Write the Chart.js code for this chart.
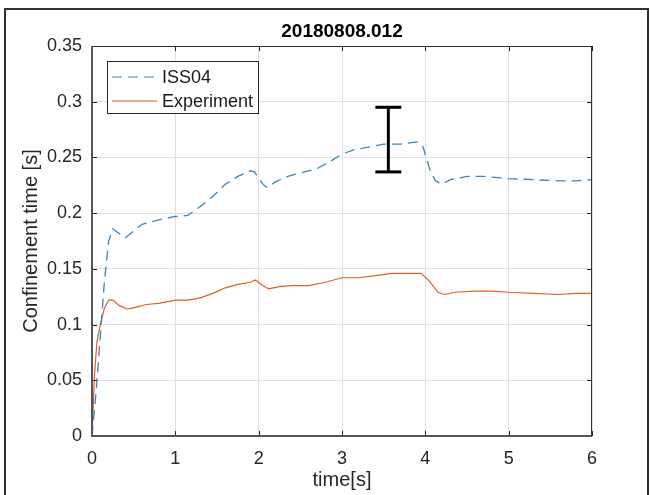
<!DOCTYPE html>
<html>
<head>
<meta charset="utf-8">
<script src="https://cdn.jsdelivr.net/npm/chart.js@4.4.1/dist/chart.umd.min.js"></script>
<style>
  html, body { margin: 0; padding: 0; background: #fff; }
  #wrap { width: 650px; height: 495px; position: relative; }
</style>
</head>
<body>
<div id="wrap"><canvas id="tauChart"></canvas></div>
<script>
// Values
const chartTitle = '20180808.012';
const seriesNames = ['ISS04', 'Experiment'];

const issTime = [0, 0.05, 0.1, 0.15, 0.2, 0.25, 0.3, 0.4, 0.5, 0.6, 0.8, 1.0, 1.15, 1.3, 1.45, 1.6, 1.75, 1.9, 1.95,
    2.05, 2.1, 2.2, 2.35, 2.5, 2.7, 2.85, 3.0, 3.15, 3.3, 3.5, 3.7, 3.9, 3.97, 4.05, 4.12, 4.2, 4.3, 4.5, 4.7,
    5.0, 5.3, 5.6, 5.8, 6.0];
const issTau = [0, 0.04, 0.09, 0.14, 0.175, 0.186, 0.183, 0.178, 0.184, 0.19, 0.194, 0.197, 0.198, 0.206, 0.215,
    0.226, 0.233, 0.238, 0.237, 0.226, 0.223, 0.228, 0.233, 0.236, 0.24, 0.246, 0.253, 0.257, 0.259, 0.262,
    0.262, 0.264, 0.26, 0.24, 0.229, 0.226, 0.23, 0.233, 0.233, 0.231, 0.23, 0.229, 0.229, 0.23];

const expTime = [0, 0.03, 0.06, 0.1, 0.15, 0.2, 0.25, 0.33, 0.42, 0.5, 0.65, 0.8, 1.0, 1.15, 1.3, 1.45, 1.6, 1.75,
    1.9, 1.96, 2.05, 2.12, 2.25, 2.4, 2.6, 2.8, 3.0, 3.2, 3.4, 3.6, 3.8, 3.95, 4.05, 4.15, 4.23, 4.35, 4.6, 4.8,
    5.0, 5.3, 5.6, 5.8, 6.0];
const expTau = [0, 0.055, 0.085, 0.1, 0.115, 0.122, 0.122, 0.117, 0.114, 0.115, 0.118, 0.119, 0.122, 0.122, 0.124,
    0.128, 0.133, 0.136, 0.138, 0.14, 0.135, 0.132, 0.134, 0.135, 0.135, 0.138, 0.142, 0.142, 0.144, 0.146,
    0.146, 0.146, 0.139, 0.129, 0.127, 0.129, 0.13, 0.13, 0.129, 0.128, 0.127, 0.128, 0.128];

// error bar (one point, low/high)
const errTime = [3.556, 3.556];
const errTau = [0.237, 0.295];

const xTicks = [0, 1, 2, 3, 4, 5, 6];
const xTickLabels = ['0', '1', '2', '3', '4', '5', '6'];
const yTicks = [0, 0.05, 0.1, 0.15, 0.2, 0.25, 0.3, 0.35];
const yTickLabels = ['0', '0.05', '0.1', '0.15', '0.2', '0.25', '0.3', '0.35'];

const colors = {
    iss: '#3886c0',
    exp: '#dc5f28',
    axis: '#262626',
    grid: '#e0e0e0'
};
const fontFamily = '"Liberation Sans", Arial, Helvetica, sans-serif';

function toPoints(xs, ys) {
    return xs.map((x, i) => ({ x: x, y: ys[i] }));
}

// MATLAB-like frame: axes box, inward ticks, title, legend
const matlabLook = {
    id: 'matlabLook',
    afterDraw(chart) {
        const ctx = chart.ctx;
        const a = chart.chartArea;
        const xs = chart.scales.x, ys = chart.scales.y;
        ctx.save();

        // outer figure frame
        ctx.strokeStyle = '#303030';
        ctx.lineWidth = 2;
        ctx.strokeRect(5, 9, 643, 500);

        // inward ticks
        ctx.strokeStyle = colors.axis;
        ctx.lineWidth = 1;
        ctx.beginPath();
        xTicks.forEach(v => {
            const px = Math.round(xs.getPixelForValue(v)) + 0.5;
            ctx.moveTo(px, a.bottom); ctx.lineTo(px, a.bottom - 5);
            ctx.moveTo(px, a.top); ctx.lineTo(px, a.top + 5);
        });
        yTicks.forEach(v => {
            const py = Math.round(ys.getPixelForValue(v)) + 0.5;
            ctx.moveTo(a.left, py); ctx.lineTo(a.left + 5, py);
            ctx.moveTo(a.right, py); ctx.lineTo(a.right - 5, py);
        });
        ctx.stroke();

        // axes box
        ctx.strokeStyle = '#333';
        ctx.lineWidth = 1;
        ctx.beginPath();
        ctx.moveTo(a.left, a.top + 0.5); ctx.lineTo(a.right, a.top + 0.5);
        ctx.moveTo(a.right - 0.5, a.top); ctx.lineTo(a.right - 0.5, a.bottom);
        ctx.stroke();
        ctx.strokeStyle = '#555';
        ctx.lineWidth = 2;
        ctx.beginPath();
        ctx.moveTo(a.left, a.top); ctx.lineTo(a.left, a.bottom);
        ctx.lineTo(a.right, a.bottom);
        ctx.stroke();

        // title
        ctx.fillStyle = '#000';
        ctx.font = 'bold 19px ' + fontFamily;
        ctx.textAlign = 'center';
        ctx.textBaseline = 'middle';
        ctx.fillText(chartTitle, (a.left + a.right) / 2, 32);

        // legend
        const lx = a.left + 15, ly = a.top + 15;
        ctx.fillStyle = '#fff';
        ctx.fillRect(lx, ly, 151, 52);
        ctx.strokeStyle = colors.axis;
        ctx.lineWidth = 1;
        ctx.strokeRect(lx + 0.5, ly + 0.5, 151, 52);
        const rows = [
            { name: seriesNames[0], color: colors.iss, dash: [10, 6], y: ly + 16 },
            { name: seriesNames[1], color: colors.exp, dash: [], y: ly + 40 }
        ];
        rows.forEach(r => {
            ctx.strokeStyle = r.color;
            ctx.lineWidth = 1.2;
            ctx.setLineDash(r.dash);
            ctx.beginPath();
            ctx.moveTo(lx + 5, r.y); ctx.lineTo(lx + 50, r.y);
            ctx.stroke();
            ctx.setLineDash([]);
            ctx.fillStyle = '#1a1a1a';
            ctx.font = '18px ' + fontFamily;
            ctx.textAlign = 'left';
            ctx.textBaseline = 'middle';
            ctx.fillText(r.name, lx + 55, r.y + 1);
        });
        ctx.restore();
    }
};

const ctx = document.getElementById('tauChart').getContext('2d');
const chart = new Chart(ctx, {
    type: 'scatter',
    data: {
        datasets: [
            {
                label: seriesNames[0],
                data: toPoints(issTime, issTau),
                showLine: true,
                borderColor: colors.iss,
                borderWidth: 1.3,
                borderDash: [10, 6],
                pointRadius: 0,
                tension: 0
            },
            {
                label: seriesNames[1],
                data: toPoints(expTime, expTau),
                showLine: true,
                borderColor: colors.exp,
                borderWidth: 1.2,
                pointRadius: 0,
                tension: 0
            },
            {
                label: 'error',
                data: toPoints(errTime, errTau),
                showLine: true,
                borderColor: '#000',
                borderWidth: 3,
                pointStyle: 'line',
                pointRadius: 13,
                pointBorderWidth: 3,
                pointBorderColor: '#000',
                pointBackgroundColor: '#000'
            }
        ]
    },
    options: {
        responsive: true,
        maintainAspectRatio: false,
        animation: false,
        layout: {
            padding: { top: 46, right: 58, bottom: 0, left: 0 }
        },
        scales: {
            x: {
                type: 'linear',
                min: 0,
                max: 6,
                afterBuildTicks: s => { s.ticks = xTicks.map(v => ({ value: v })); },
                afterFit: s => { s.height = 59; },
                grid: { color: colors.grid, drawTicks: false },
                border: { display: false },
                ticks: {
                    padding: 12,
                    color: colors.axis,
                    font: { size: 18, family: fontFamily },
                    callback: (v) => xTickLabels[xTicks.indexOf(v)]
                },
                title: {
                    display: true,
                    text: 'time[s]',
                    color: colors.axis,
                    font: { size: 20, family: fontFamily },
                    padding: { top: 0, bottom: 3 }
                }
            },
            y: {
                min: 0,
                max: 0.35,
                afterBuildTicks: s => { s.ticks = yTicks.map(v => ({ value: v })); },
                afterFit: s => { s.width = 92; },
                grid: { color: colors.grid, drawTicks: false },
                border: { display: false },
                ticks: {
                    padding: 10,
                    color: colors.axis,
                    font: { size: 18, family: fontFamily },
                    callback: (v) => yTickLabels[yTicks.indexOf(v)]
                },
                title: {
                    display: true,
                    text: 'Confinement time [s]',
                    color: colors.axis,
                    font: { size: 20, family: fontFamily },
                    padding: { top: 19, bottom: 0 }
                }
            }
        },
        plugins: {
            legend: { display: false },
            title: { display: false },
            tooltip: { enabled: false }
        }
    },
    plugins: [matlabLook]
});
</script>
</body>
</html>
